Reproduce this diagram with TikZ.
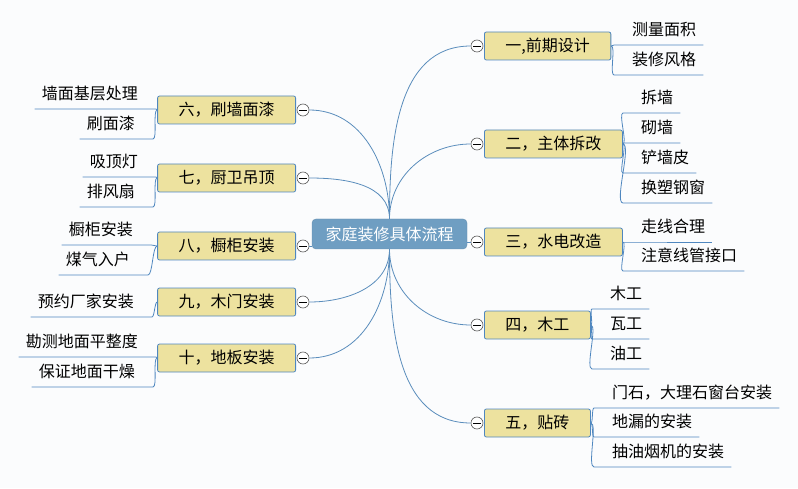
\documentclass[tikz,border=0pt]{standalone}
\usepackage{fontspec}
\setmainfont{Noto Sans CJK SC}
\usepackage{tikz}
\definecolor{mybgcolor}{HTML}{FBFCFD}
\definecolor{myrootcolor}{HTML}{6F9EC2}
\definecolor{mytopiccolor}{HTML}{EDE29F}
\definecolor{myedgecolor}{HTML}{4F87BF}
\definecolor{mylinecolor}{HTML}{5A8DBC}

\tikzset{
  root/.style={fill=myrootcolor, draw=myrootcolor!90!black, rounded corners=4pt, minimum width=155pt, minimum height=30pt, text=white, font=\fontsize{16pt}{18pt}\selectfont},
  topic/.style={draw=myedgecolor, line width=0.8pt, fill=mytopiccolor, rounded corners=2pt, minimum height=28pt, inner xsep=21pt, font=\fontsize{16pt}{18pt}\selectfont},
  leaf/.style={minimum height=30pt, inner xsep=7pt, inner ysep=0pt, font=\fontsize{16pt}{18pt}\selectfont},
  fold/.style={circle, draw=black!65, fill=white, line width=0.6pt, minimum size=12pt, inner sep=0pt,
    path picture={\draw[black, line width=0.7pt] ([xshift=2.2pt]path picture bounding box.west) -- ([xshift=-2.2pt]path picture bounding box.east);}},
  trunk/.style={draw=mylinecolor, line width=0.8pt},
  twig/.style={draw=myedgecolor, line width=0.8pt, looseness=0.4},
}

\begin{document}
\begin{tikzpicture}[x=1pt, y=1pt]%
\useasboundingbox (0,0) rectangle (798,488);%
\fill[mybgcolor] (0,0) rectangle (798,488);%
% centre
\node[root] (root) at (389.5,254) {家庭装修具体流程};%
% right topics
\node[topic, anchor=west] (t1) at (484,442) {一,前期设计};%
\node[topic, anchor=west] (t2) at (484,344) {二，主体拆改};%
\node[topic, anchor=west] (t3) at (484,246) {三，水电改造};%
\node[topic, anchor=west] (t4) at (484,163) {四，木工};%
\node[topic, anchor=west] (t5) at (484,65) {五，贴砖};%
% left topics
\node[topic, anchor=east] (t6) at (296,378) {六，刷墙面漆};%
\node[topic, anchor=east] (t7) at (296,310) {七，厨卫吊顶};%
\node[topic, anchor=east] (t8) at (296,242) {八，橱柜安装};%
\node[topic, anchor=east] (t9) at (296,186) {九，木门安装};%
\node[topic, anchor=east] (t10) at (296,130) {十，地板安装};%
% fold marks
\node[fold] (f1) at (477,442) {};%
\node[fold] (f2) at (477,344) {};%
\node[fold] (f3) at (477,246) {};%
\node[fold] (f4) at (477,163) {};%
\node[fold] (f5) at (477,65) {};%
\node[fold] (f6) at (303,378) {};%
\node[fold] (f7) at (303,310) {};%
\node[fold] (f8) at (303,242) {};%
\node[fold] (f9) at (303,186) {};%
\node[fold] (f10) at (303,130) {};%
% main branches
\draw[trunk] (root.north) to[out=90, in=180] (f1.west);%
\draw[trunk] (root.north) to[out=90, in=180] (f2.west);%
\draw[trunk] (f3.west) -- (f3.west -| root.east);%
\draw[trunk] (root.south) to[out=-90, in=180] (f4.west);%
\draw[trunk] (root.south) to[out=-90, in=180] (f5.west);%
\draw[trunk] (root.north) to[out=90, in=0] (f6.east);%
\draw[trunk] (root.north) to[out=90, in=0] (f7.east);%
\draw[trunk] (f8.east) -- (f8.east -| root.west);%
\draw[trunk] (root.south) to[out=-90, in=0] (f9.east);%
\draw[trunk] (root.south) to[out=-90, in=0] (f10.east);%
% right leaves (text sits 12pt in from the start of its underline)
\node[leaf, anchor=south west] (c11) at (625,443) {测量面积};%
\node[leaf, anchor=south west] (c12) at (625,413) {装修风格};%
\node[leaf, anchor=south west] (c21) at (634,375) {拆墙};%
\node[leaf, anchor=south west] (c22) at (634,345) {砌墙};%
\node[leaf, anchor=south west] (c23) at (634,315) {铲墙皮};%
\node[leaf, anchor=south west] (c24) at (634,285) {换塑钢窗};%
\node[leaf, anchor=south west] (c31) at (634,246) {走线合理};%
\node[leaf, anchor=south west] (c32) at (634,217) {注意线管接口};%
\node[leaf, anchor=south west] (c41) at (603,179) {木工};%
\node[leaf, anchor=south west] (c42) at (603,149) {瓦工};%
\node[leaf, anchor=south west] (c43) at (603,119) {油工};%
\node[leaf, anchor=south west] (c51) at (605,80) {门石，大理石窗台安装};%
\node[leaf, anchor=south west] (c52) at (605,51) {地漏的安装};%
\node[leaf, anchor=south west] (c53) at (605,21) {抽油烟机的安装};%
% left leaves
\node[leaf, anchor=south east] (c61) at (145,379) {墙面基层处理};%
\node[leaf, anchor=south east] (c62) at (142,349) {刷面漆};%
\node[leaf, anchor=south east] (c71) at (145,311) {吸顶灯};%
\node[leaf, anchor=south east] (c72) at (142,281) {排风扇};%
\node[leaf, anchor=south east] (c81) at (140,243) {橱柜安装};%
\node[leaf, anchor=south east] (c82) at (137,213) {煤气入户};%
\node[leaf, anchor=south east] (c91) at (141,171) {预约厂家安装};%
\node[leaf, anchor=south east] (c101) at (145,131) {勘测地面平整度};%
\node[leaf, anchor=south east] (c102) at (142,101) {保证地面干燥};%
% leaf branches
\foreach \p/\c in {t1/c11, t1/c12, t2/c21, t2/c22, t2/c23, t2/c24, t3/c31, t3/c32, t4/c41, t4/c42, t4/c43, t5/c51, t5/c52, t5/c53}
  \draw[twig] (\p.east) to[out=0, in=180] ([xshift=-11pt]\c.south west) -- (\c.south east);%
\foreach \p/\c in {t6/c61, t6/c62, t7/c71, t7/c72, t8/c81, t8/c82, t9/c91, t10/c101, t10/c102}
  \draw[twig] (\p.west) to[out=180, in=0] ([xshift=11pt]\c.south east) -- (\c.south west);%
\end{tikzpicture}
\end{document}
